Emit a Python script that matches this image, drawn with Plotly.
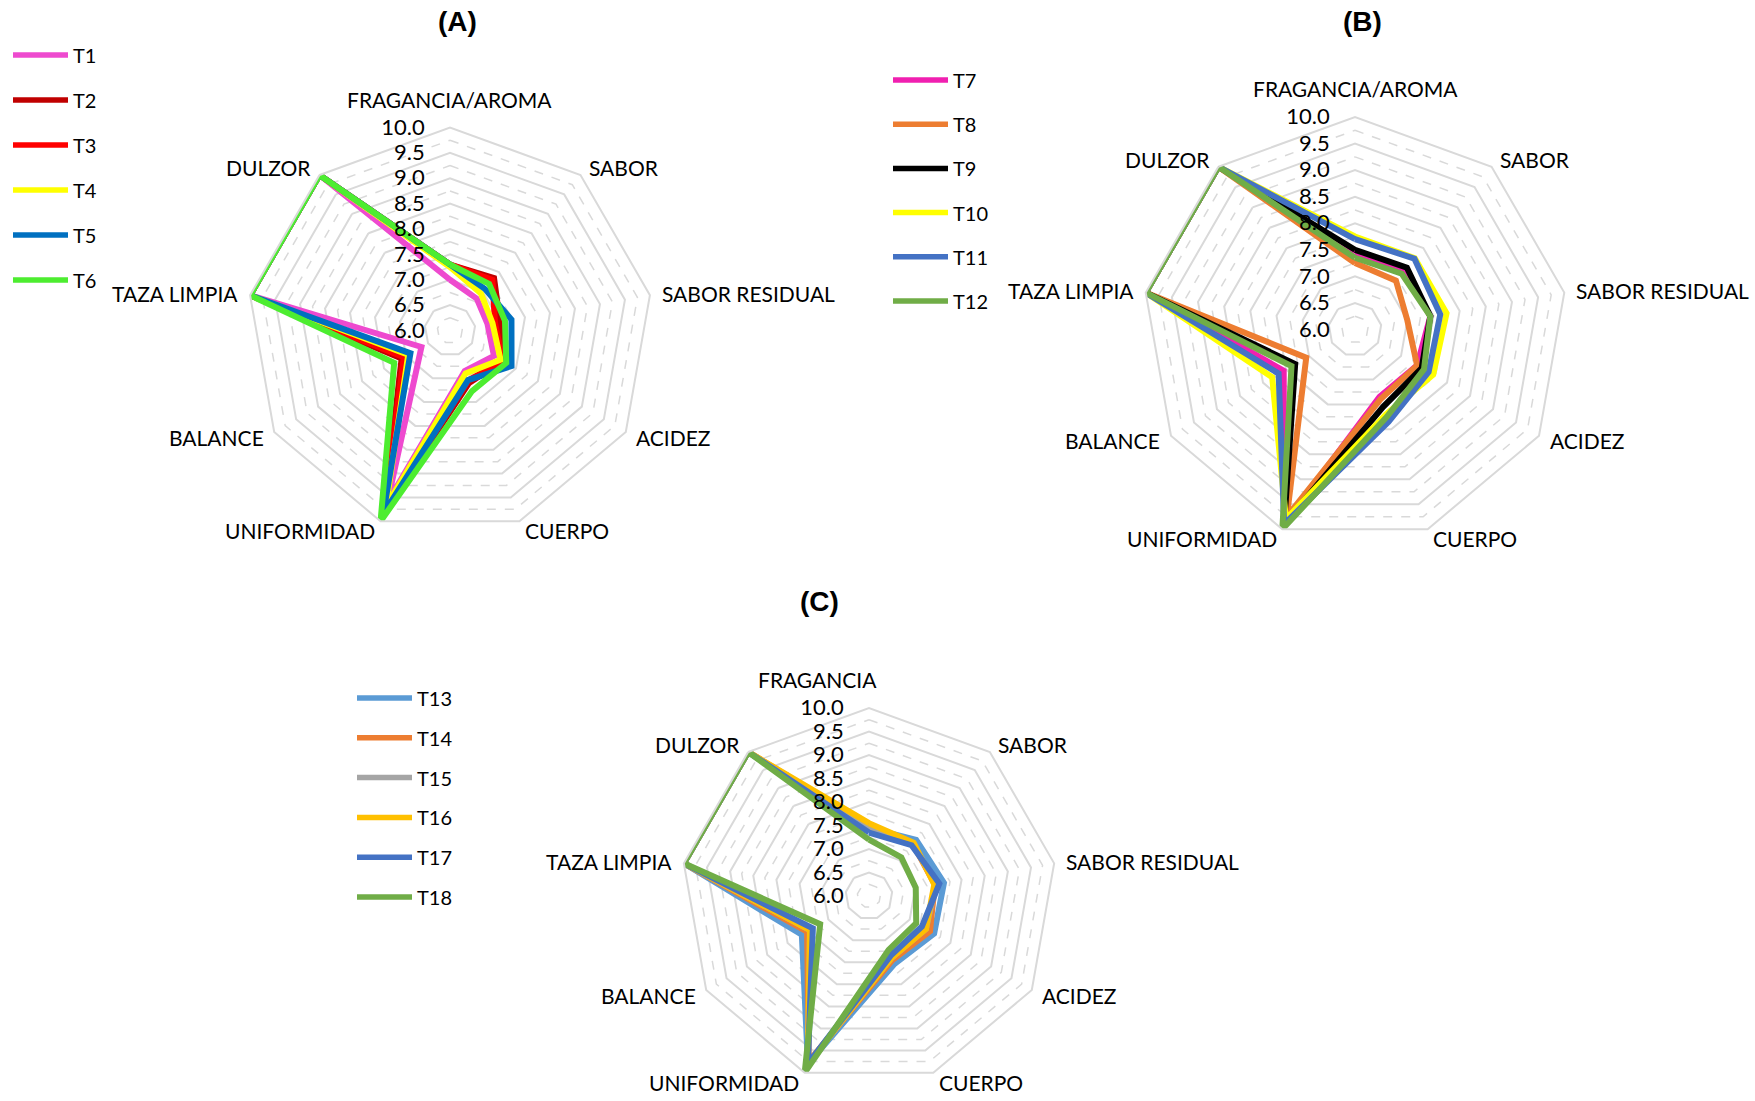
import math
import plotly.graph_objects as go

W, H = 1755, 1101

# Sensory attributes (angular categories, clockwise from the top)
categories = ["FRAGANCIA/AROMA", "SABOR", "SABOR RESIDUAL", "ACIDEZ", "CUERPO",
              "UNIFORMIDAD", "BALANCE", "TAZA LIMPIA", "DULZOR"]
labels_c = ["FRAGANCIA", "SABOR", "SABOR RESIDUAL", "ACIDEZ", "CUERPO",
            "UNIFORMIDAD", "BALANCE", "TAZA LIMPIA", "DULZOR"]

radial_ticks = [6.0, 6.5, 7.0, 7.5, 8.0, 8.5, 9.0, 9.5, 10.0]
radial_ticktext = ["6.0", "6.5", "7.0", "7.5", "8.0", "8.5", "9.0", "9.5", "10.0"]
minor_rings = [6.25, 6.75, 7.25, 7.75, 8.25, 8.75, 9.25, 9.75]

# Panel (A)
names_a = ["T1", "T2", "T3", "T4", "T5", "T6"]
T1 = [7.00, 6.82, 6.75, 7.00, 6.85, 9.60, 6.65, 10.0, 10.0]
T2 = [7.30, 7.35, 7.00, 7.20, 7.10, 9.80, 7.10, 10.0, 10.0]
T3 = [7.30, 7.30, 6.90, 7.20, 7.05, 9.80, 7.05, 10.0, 10.0]
T4 = [7.25, 6.95, 6.85, 7.15, 6.90, 9.70, 6.95, 10.0, 10.0]
T5 = [7.30, 7.07, 7.23, 7.40, 7.04, 9.85, 6.90, 10.0, 10.0]
T6 = [7.30, 7.20, 7.10, 7.28, 7.27, 10.0, 7.27, 10.0, 10.0]
colors_a = ["#EE4ACF", "#C00000", "#FF0000", "#FFFF00", "#0070C0", "#4DED30"]

# Panel (B)
names_b = ["T7", "T8", "T9", "T10", "T11", "T12"]
T7 = [7.45, 7.45, 7.44, 7.35, 7.35, 9.90, 7.55, 10.0, 10.0]
T8 = [7.25, 7.20, 7.00, 7.35, 7.40, 9.75, 7.06, 10.0, 10.0]
T9 = [7.50, 7.52, 7.44, 7.45, 7.55, 9.90, 7.30, 10.0, 10.0]
T10 = [7.75, 7.75, 7.75, 7.70, 7.70, 9.80, 7.80, 10.0, 10.0]
T11 = [7.70, 7.74, 7.63, 7.60, 7.85, 9.90, 7.66, 10.0, 10.0]
T12 = [7.35, 7.37, 7.44, 7.50, 7.75, 10.0, 7.38, 10.0, 10.0]
colors_b = ["#F020B0", "#ED7D31", "#000000", "#FFFF00", "#4472C4", "#70AD47"]

# Panel (C)
names_c = ["T13", "T14", "T15", "T16", "T17", "T18"]
T13 = [7.45, 7.56, 7.62, 7.60, 7.55, 9.80, 7.65, 10.0, 10.0]
T14 = [7.50, 7.45, 7.42, 7.50, 7.45, 9.75, 7.52, 10.0, 10.0]
T15 = [7.45, 7.45, 7.45, 7.40, 7.40, 9.80, 7.45, 10.0, 10.0]
T16 = [7.55, 7.48, 7.41, 7.40, 7.40, 9.80, 7.45, 10.0, 10.0]
T17 = [7.35, 7.41, 7.52, 7.30, 7.35, 9.80, 7.38, 10.0, 10.0]
T18 = [7.20, 7.07, 7.01, 7.16, 7.22, 10.0, 7.20, 10.0, 10.0]
colors_c = ["#5B9BD5", "#ED7D31", "#A5A5A5", "#FFC000", "#4472C4", "#70AD47"]

panels = [
    dict(key="polar", title="(A)", names=names_a, series=[T1, T2, T3, T4, T5, T6],
         colors=colors_a, labels=categories,
         center=(450, 330.5), radius=203, title_xy=(457, 22),
         legend_x=(13, 68), legend_y0=55, legend_dy=45),
    dict(key="polar2", title="(B)", names=names_b, series=[T7, T8, T9, T10, T11, T12],
         colors=colors_b, labels=categories,
         center=(1355, 329.5), radius=212.5, title_xy=(1362, 22),
         legend_x=(893, 948), legend_y0=80, legend_dy=44.2),
    dict(key="polar3", title="(C)", names=names_c, series=[T13, T14, T15, T16, T17, T18],
         colors=colors_c, labels=labels_c,
         center=(869, 896), radius=188, title_xy=(819, 601),
         legend_x=(357, 412), legend_y0=698, legend_dy=39.8),
]

FONT = "Lato, 'Open Sans', sans-serif"
GRID = "#D9D9D9"
LABEL_GAP = 10        # px between a polygon vertex and its category label
LABEL_GAP_TOP = 14    # the label above the top vertex sits a little higher
HALF_TOP_LABEL = 113  # offset of the shortened top label's left edge, px

fig = go.Figure()
shapes = []
annotations = []


def px_x(x):
    return x / W


def px_y(y):
    return 1 - y / H


for p in panels:
    subplot = p["key"]
    theta = categories + [categories[0]]
    # dashed minor rings
    for rv in minor_rings:
        fig.add_trace(go.Scatterpolar(
            r=[rv] * (len(categories) + 1), theta=theta, mode="lines",
            line=dict(color=GRID, width=1.5, dash="dash"),
            hoverinfo="skip", showlegend=False, subplot=subplot))
    # treatment profiles
    for name, vals, col in zip(p["names"], p["series"], p["colors"]):
        fig.add_trace(go.Scatterpolar(
            r=vals + [vals[0]], theta=theta, mode="lines", name=name,
            line=dict(color=col, width=6), showlegend=False, subplot=subplot))

    cx, cy = p["center"]
    R = p["radius"]
    fig.update_layout({subplot: dict(
        domain=dict(x=[px_x(cx - R), px_x(cx + R)], y=[px_y(cy + R), px_y(cy - R)]),
        gridshape="linear",
        bgcolor="white",
        radialaxis=dict(
            range=[6, 10], tickvals=radial_ticks, ticktext=radial_ticktext,
            angle=90, tickangle=90, side="counterclockwise",
            showline=False, ticks="outside", ticklen=17, tickcolor="rgba(0,0,0,0)",
            gridcolor=GRID, gridwidth=2,
            tickfont=dict(family=FONT, size=22, color="#000000")),
        angularaxis=dict(
            direction="clockwise", rotation=90, showgrid=False,
            linecolor=GRID, linewidth=2, ticks="", showticklabels=False,
            categoryorder="array", categoryarray=categories),
    )})

    # category labels just outside each vertex of the outer ring
    n = len(categories)
    for i, lab in enumerate(p["labels"]):
        phi = math.radians(360.0 * i / n)
        dx, dy = math.sin(phi), -math.cos(phi)
        vx, vy = cx + R * dx, cy + R * dy
        gap = LABEL_GAP_TOP if dy < -0.9 else LABEL_GAP
        lx, ly = vx + gap * dx, vy + gap * dy
        if abs(dx) < 0.1:
            xanchor = "center"
        else:
            xanchor = "left" if dx > 0 else "right"
        yanchor = "bottom" if dy < -0.9 else "middle"
        if lab != categories[i]:
            # shortened top label keeps the left edge of the full one
            lx, xanchor = lx - HALF_TOP_LABEL, "left"
        annotations.append(dict(
            x=px_x(lx), y=px_y(ly), xref="paper", yref="paper", text=lab,
            showarrow=False, xanchor=xanchor, yanchor=yanchor,
            font=dict(family=FONT, size=21, color="#000000")))

    # panel title
    tx, ty = p["title_xy"]
    annotations.append(dict(
        x=px_x(tx), y=px_y(ty), xref="paper", yref="paper", text="<b>" + p["title"] + "</b>",
        showarrow=False, font=dict(family="Liberation Sans, Arial, sans-serif", size=28, color="#000000"),
        xanchor="center", yanchor="middle"))

    # legend: a line sample and a label for each treatment
    x0, x1 = p["legend_x"]
    for i, (name, col) in enumerate(zip(p["names"], p["colors"])):
        yy = p["legend_y0"] + i * p["legend_dy"]
        shapes.append(dict(type="line", xref="paper", yref="paper",
                           x0=px_x(x0), x1=px_x(x1), y0=px_y(yy), y1=px_y(yy),
                           line=dict(color=col, width=5.5)))
        annotations.append(dict(
            x=px_x(x1 + 3), y=px_y(yy), xref="paper", yref="paper", text=name,
            showarrow=False, xanchor="left", yanchor="middle",
            font=dict(family=FONT, size=20, color="#000000")))

fig.update_layout(
    width=W, height=H,
    margin=dict(l=0, r=0, t=0, b=0),
    paper_bgcolor="white",
    plot_bgcolor="white",
    showlegend=False,
    shapes=shapes,
    annotations=annotations,
)

fig.write_html("out.html")
